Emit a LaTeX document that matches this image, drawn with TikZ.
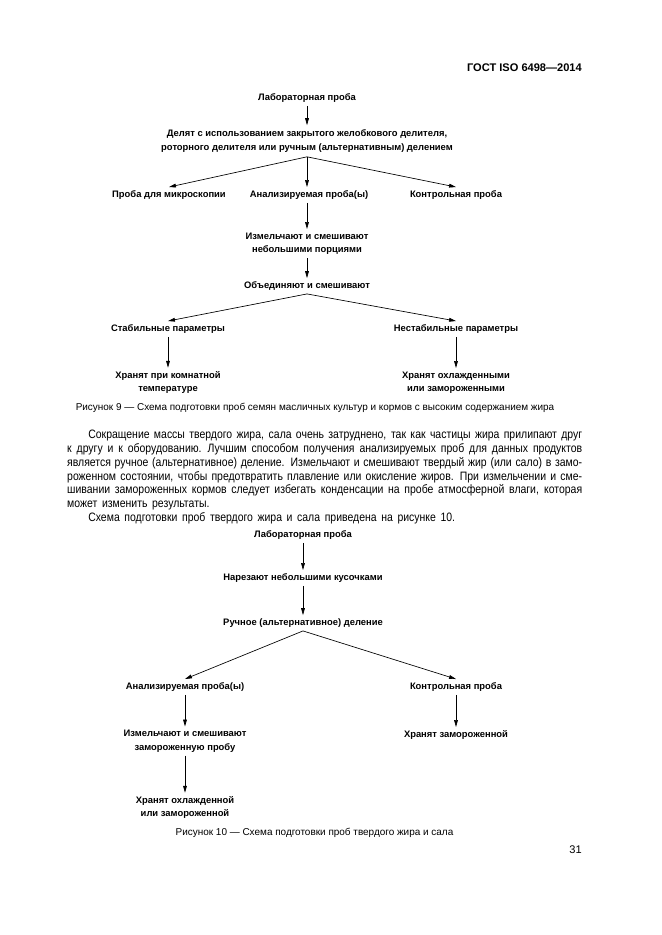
\documentclass[tikz,border=0pt]{standalone}
\usepackage{fontspec}
\setmainfont{Liberation Sans}
\newfontfamily\narrowfont{Liberation Sans}[FakeStretch=0.86]
\usetikzlibrary{arrows.meta}
\begin{document}
\begin{tikzpicture}[x=0.9006bp,y=-0.9006bp,
  lbl/.style={font=\fontsize{8.5}{12.2}\selectfont\bfseries, align=center, inner xsep=1pt, inner ysep=3pt},
  arr/.style={-{Triangle[width=3.4pt,length=6.3pt]}, line width=0.6pt},
  captext/.style={font=\fontsize{9}{11}\selectfont, inner sep=0pt}]
\useasboundingbox[fill=white] (0,0) rectangle (661,935);

% header and page number
\node[anchor=east, font=\fontsize{10}{12}\selectfont\bfseries, inner sep=0pt] (hdr) at (582,68) {ГОСТ ISO 6498—2014};
\node[anchor=east, font=\fontsize{10}{12}\selectfont, inner sep=0pt] (pg) at (582,850) {31};

% Figure 9
\node[lbl] (l9) at (307,98) {Лабораторная проба};
\node[lbl, inner ysep=4pt] (d9) at (307,141) {Делят с использованием закрытого желобкового делителя,\\роторного делителя или ручным (альтернативным) делением};
\node[lbl] (m9) at (169,195) {Проба для микроскопии};
\node[lbl] (a9) at (309,195) {Анализируемая проба(ы)};
\node[lbl] (k9) at (456,195) {Контрольная проба};
\node[lbl] (i9) at (307,243.5) {Измельчают и смешивают\\небольшими порциями};
\node[lbl] (o9) at (307,286) {Объединяют и смешивают};
\node[lbl] (s9) at (168,329) {Стабильные параметры};
\node[lbl] (n9) at (456,329) {Нестабильные параметры};
\node[lbl] (h9) at (168,382.5) {Хранят при комнатной\\температуре};
\node[lbl] (z9) at (456,382.5) {Хранят охлажденными\\или замороженными};

\draw[arr] (l9) -- (d9);
\draw[arr] (d9.south) -- (m9.north);
\draw[arr] (d9.south) -- (d9.south |- a9.north);
\draw[arr] (d9.south) -- (k9.north);
\draw[arr] (i9.north |- a9.south) -- (i9.north);
\draw[arr] (i9) -- (o9);
\draw[arr] (o9.south) -- (s9.north);
\draw[arr] (o9.south) -- (n9.north);
\draw[arr] (s9) -- (h9);
\draw[arr] (n9) -- (z9);

\node[captext] (c9) at (315,408) {Рисунок 9 — Схема подготовки проб семян масличных культур и кормов с высоким содержанием жира};

% Paragraph
\node[anchor=north west, inner sep=0pt, text width=463.8bp, align=left,
      font=\narrowfont\fontsize{11}{12.6}\selectfont] (txt) at (67,429.5) {%
\spaceskip=0.24em plus 0.3em minus 0.12em
\makebox[\linewidth][s]{\hspace{19bp}Сокращение массы твердого жира, сала очень затруднено, так как частицы жира прилипают друг}\\
\makebox[\linewidth][s]{к другу и к оборудованию. Лучшим способом получения анализируемых проб для данных продуктов}\\
\makebox[\linewidth][s]{является ручное (альтернативное) деление. Измельчают и смешивают твердый жир (или сало) в замо-}\\
\makebox[\linewidth][s]{роженном состоянии, чтобы предотвратить плавление или окисление жиров. При измельчении и сме-}\\
\makebox[\linewidth][s]{шивании замороженных кормов следует избегать конденсации на пробе атмосферной влаги, которая}\\
\spaceskip=0.38em
может изменить результаты.\\
\hspace*{19bp}Схема подготовки проб твердого жира и сала приведена на рисунке 10.};

% Figure 10
\node[lbl] (l10) at (303,535) {Лабораторная проба};
\node[lbl] (r10) at (303,578) {Нарезают небольшими кусочками};
\node[lbl] (q10) at (303,623) {Ручное (альтернативное) деление};
\node[lbl] (a10) at (185,687) {Анализируемая проба(ы)};
\node[lbl] (k10) at (456,687) {Контрольная проба};
\node[lbl] (i10) at (185,741) {Измельчают и смешивают\\замороженную пробу};
\node[lbl] (z10) at (456,735) {Хранят замороженной};
\node[lbl] (h10) at (185,807.5) {Хранят охлажденной\\или замороженной};

\draw[arr] (l10) -- (r10);
\draw[arr] (r10) -- (q10);
\draw[arr] (q10.south) -- (a10.north);
\draw[arr] (q10.south) -- (k10.north);
\draw[arr] (a10) -- (i10);
\draw[arr] (k10) -- (z10);
\draw[arr] (i10) -- (h10);

\node[captext] (c10) at (314.5,833) {Рисунок 10 — Схема подготовки проб твердого жира и сала};
\end{tikzpicture}
\end{document}
